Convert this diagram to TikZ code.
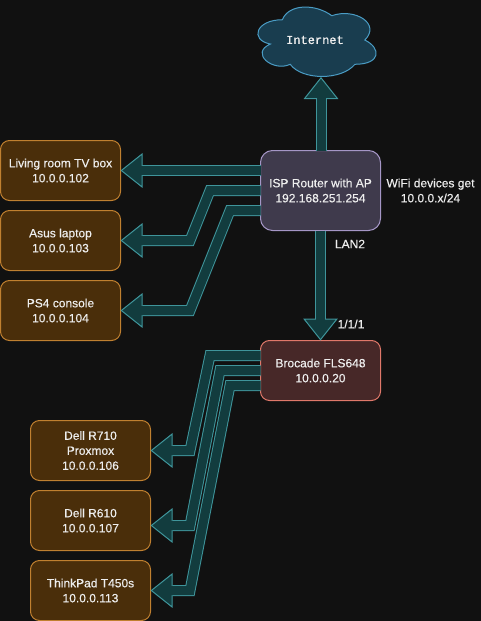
\documentclass[tikz,border=0pt]{standalone}
\usepackage{fontspec}
\setmainfont[RawFeature={embolden=0.35}]{Liberation Sans}
\newfontfamily\cloudfont[RawFeature={embolden=0.7}]{Liberation Mono}
\usetikzlibrary{arrows.meta}
\definecolor{canvas}{HTML}{111111}
\definecolor{linkfill}{HTML}{123C3E}
\definecolor{linkedge}{HTML}{3F959B}
\definecolor{hostfill}{HTML}{4A2E0A}
\definecolor{hostedge}{HTML}{C08030}
\definecolor{routerfill}{HTML}{3F3A4C}
\definecolor{routeredge}{HTML}{A596C6}
\definecolor{switchfill}{HTML}{472828}
\definecolor{switchedge}{HTML}{E0786A}
\definecolor{cloudfill}{HTML}{193D4F}
\definecolor{cloudedge}{HTML}{4A9CC4}
\definecolor{labeltext}{HTML}{EEEEEE}
\tikzset{
  box/.style={draw,rounded corners=6.75pt,line width=.75pt,minimum width=90pt,minimum height=45pt,
    inner sep=0pt,outer sep=0pt,align=center,text=labeltext,font=\fontsize{9}{11.25}\selectfont},
  hostbox/.style={box,fill=hostfill,draw=hostedge},
  routerbox/.style={box,fill=routerfill,draw=routeredge,minimum height=60pt,rounded corners=9pt},
  switchbox/.style={box,fill=switchfill,draw=switchedge},
  note/.style={align=center,inner sep=0pt,text=labeltext,font=\fontsize{9}{11.25}\selectfont},
  linkarrow/.style={draw=linkedge,line width=8.25pt,
    -{Triangle[length=16.5pt,width=26pt,line width=.75pt,fill=linkfill,color=linkedge]},
    postaction={draw=linkfill,line width=6.75pt,-,shorten >=15.5pt}},
}
\begin{document}
\begin{tikzpicture}[x=.75pt,y=-.75pt]
  \useasboundingbox[fill=canvas] (0,0) rectangle (481,621);
  \begin{scope}[shift={(249.3,-.5)},x=99pt,y=-60.75pt]
    \draw[fill=cloudfill,draw=cloudedge,line width=.75pt]
      (.25,.25) .. controls (.05,.25) and (0,.5) .. (.16,.55)
      .. controls (0,.66) and (.18,.9) .. (.31,.8)
      .. controls (.4,1) and (.7,1) .. (.8,.8)
      .. controls (1,.8) and (1,.6) .. (.875,.5)
      .. controls (1,.3) and (.8,.1) .. (.625,.2)
      .. controls (.5,.05) and (.3,.05) .. (.25,.25) -- cycle;
  \end{scope}
  \node[note,font=\cloudfont\fontsize{9}{11.25}\selectfont] (internet) at (315,40) {Internet};
  \coordinate (cloudfoot) at (321,77);
  \node[routerbox] (router) at (320.5,190.5) {ISP Router with AP\\192.168.251.254};
  \node[switchbox] (brocade) at (320.5,370.5) {Brocade FLS648\\10.0.0.20};
  \node[hostbox] (tvbox) at (60.5,170.5) {Living room TV box\\10.0.0.102};
  \node[hostbox] (asus) at (60.5,240.5) {Asus laptop\\10.0.0.103};
  \node[hostbox] (ps4) at (60.5,310.5) {PS4 console\\10.0.0.104};
  \node[hostbox] (r710) at (90.5,450.5) {Dell R710\\Proxmox\\10.0.0.106};
  \node[hostbox] (r610) at (90.5,520.5) {Dell R610\\10.0.0.107};
  \node[hostbox] (t450) at (90.5,590.5) {ThinkPad T450s\\10.0.0.113};
  \node[note] (wifi) at (430.5,190.5) {WiFi devices get\\10.0.0.x/24};
  \node[note] (lan) at (350,244) {LAN2};
  \node[note] (port) at (351,324) {1/1/1};
  \draw[linkarrow] (router.north -| cloudfoot) -- (cloudfoot);
  \draw[linkarrow] (router.south) -- (brocade.north);
  \draw[linkarrow] (router.west |- tvbox.east) -- (tvbox.east);
  \draw[linkarrow] (router.west) -- (210,190.5) -- (190,240.5) -- (asus.east);
  \draw[linkarrow] ([yshift=-15pt]router.west) -- (230,210.5) -- (190,310.5) -- (ps4.east);
  \draw[linkarrow] ([yshift=11.25pt]brocade.west) -- (210,355.5) -- (190,450.5) -- (r710.east);
  \draw[linkarrow] (brocade.west) -- (220,370.5) -- (190,525.5) -- ([yshift=-3.75pt]r610.east);
  \draw[linkarrow] ([yshift=-11.25pt]brocade.west) -- (230,385.5) -- (190,590.5) -- (t450.east);
\end{tikzpicture}
\end{document}
